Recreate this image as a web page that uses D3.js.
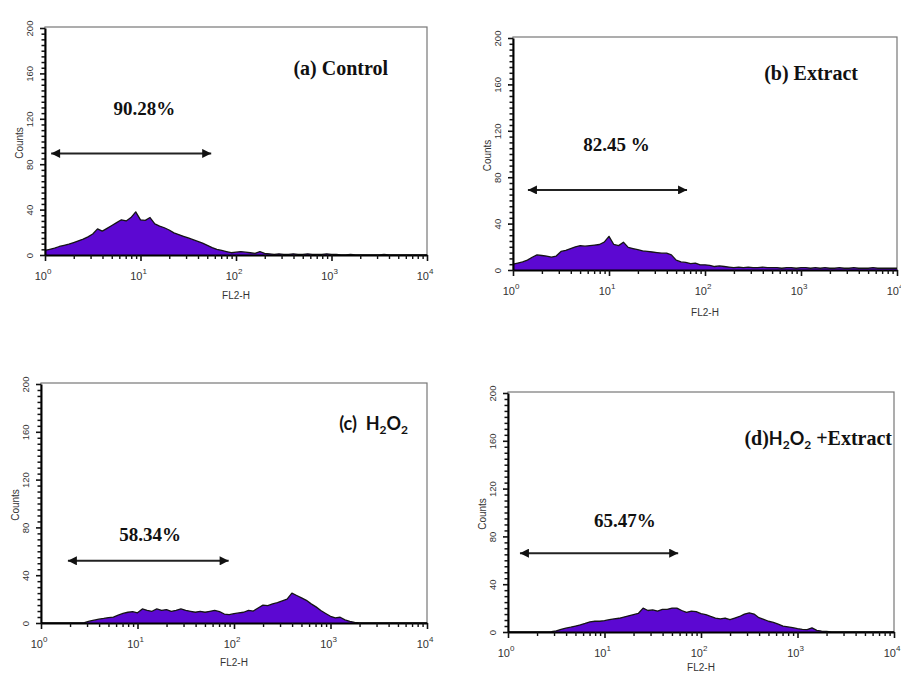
<!DOCTYPE html>
<html>
<head>
<meta charset="utf-8">
<script src="https://cdn.jsdelivr.net/npm/d3@7"></script>
<style>
  html, body { margin: 0; padding: 0; background: #fff; }
  svg { display: block; }
</style>
</head>
<body>
<svg id="chart" width="901" height="675"></svg>
<script>
// ---------- DATA ----------
// FL2-H channel positions (log10 of fluorescence), 0.05-decade bins
const channelLog = [
  0.00,0.05,0.10,0.15,0.20,0.25,0.30,0.35,0.40,0.45,
  0.50,0.55,0.60,0.65,0.70,0.75,0.80,0.85,0.90,0.95,
  1.00,1.05,1.10,1.15,1.20,1.25,1.30,1.35,1.40,1.45,
  1.50,1.55,1.60,1.65,1.70,1.75,1.80,1.85,1.90,1.95,
  2.00,2.05,2.10,2.15,2.20,2.25,2.30,2.35,2.40,2.45,
  2.50,2.55,2.60,2.65,2.70,2.75,2.80,2.85,2.90,2.95,
  3.00,3.05,3.10,3.15,3.20,3.25,3.30,3.35,3.40,3.45,
  3.50,3.55,3.60,3.65,3.70,3.75,3.80,3.85,3.90,3.95,
  4.00
];

// (a) Control
const countsA = [
  4,5,6,7.5,8.5,9.5,11,12.5,14,16,
  18.5,23,21,23.5,26,28.5,31,30,33,38,
  31,30.5,33,27.5,25.5,24,22,19.5,18,16.5,
  15,13.5,12,10.5,8.5,6.5,5,4,3,2,
  2.5,3,2.5,2,1.5,3,1.5,1,0.5,1,
  0.5,0.5,1,0.5,0.5,1,0.5,0.5,0.5,1,
  0.5,0.5,0,0,0.5,0,0,0,0,0,
  0,0.5,0,0,0,0,0,0,0,0,
  0
];
// (b) Extract
const countsB = [
  5,6,7,8.5,11,13,12.5,12,11,12,
  16,17,18.5,20,21,20.5,21,21.5,22,24,
  29,22,21,24,19.5,18.5,17.5,16.5,16,15.5,
  15,14.5,14.5,13,8.5,7,6.5,5.5,6,4.5,
  4.5,4,3,3.5,3,2.5,2,2.5,2,2.5,
  2,2,2.5,2,2,2,1.5,2,2,1.5,
  2,2,1.5,2,1.5,2,1.5,1.5,2,1.5,
  1.5,2,1.5,1.5,1.5,2,1.5,1.5,1.5,1.5,
  1.5
];
// (c) H2O2
const countsC = [
  0,0,0,0,0,0,0,0,0,0.3,
  1.5,2.4,3.2,3.8,4.5,5,6.5,8,9,9.5,
  8.5,11.8,10.6,9.8,11.8,10.6,11.2,9.8,10.6,11.8,
  10.6,9.8,9,9.8,9,9.8,10.6,9.5,7.5,7,
  7.8,8.4,9,10.6,10,12.6,15,14.5,16,17,
  18.5,20,25,23,21,19,16,13.5,10.5,8,
  5.6,4.2,4.8,2.6,1.4,0.5,0,0,0,0,
  0,0,0,0,0,0,0,0,0,0,
  0
];
// (d) H2O2 + Extract
const countsD = [
  0,0,0,0,0,0,0,0,0,0.3,
  1,2.2,3.2,4,5,6,7.2,8.5,9,9,
  9.5,10.3,11,11.5,12.5,13.5,14.5,15.5,20,18,
  18.5,17.5,19,19,20,20,18,16.5,17.5,17,
  15.3,14.5,13,11.7,10.9,11.7,10.3,11.7,13,15,
  16,15,12,10.5,9,8,6.5,5,4.3,3.6,
  2.8,2.2,2,3.5,1.4,0.8,0.5,0,0,0,
  0,0,0,0,0,0,0,0,0,0,
  0
];

// Panel titles and marker-gate percentages
const panelLetters = ["(a)", "(b)", "(c)", "(d)"];
const gatePercent = ["90.28%", "82.45 %", "58.34%", "65.47%"];
// Gate (M1) ranges in FL2-H units and the count level where the bar is drawn
const gateStart = [1.16, 1.43, 1.9, 1.33];
const gateEnd   = [55, 65, 88, 58];
const gateLevel = [89.5, 69, 52, 66];
// Position of percentage text (FL2-H, Counts)
const pctX = [11, 12, 13.5, 16.3];
const pctY = [123, 103, 68.5, 88];

// Axis ticks
const yMajorTicks = [0, 40, 80, 120, 160, 200];
const yMinorTicks = [5,10,15,20,25,30,35,45,50,55,60,65,70,75,85,90,95,100,105,110,115,
                     125,130,135,140,145,150,155,165,170,175,180,185,190,195];
const xDecades = [1, 10, 100, 1000, 10000];
const xDecadeExp = ["0", "1", "2", "3", "4"];
const xMinorMult = [2,3,4,5,6,7,8,9];
const yAxisTitle = "Counts";
const xAxisTitle = "FL2-H";

// ---------- LAYOUT ----------
const layout = [
  { left: 45,  right: 427, bottom: 255, top: 27,  titleRight: 388, titleBase: 75,  xTitleGap: 44 },
  { left: 513, right: 897, bottom: 270, top: 37,  titleRight: 858, titleBase: 80,  xTitleGap: 46 },
  { left: 41,  right: 427, bottom: 623, top: 383, titleRight: 408, titleBase: 430, xTitleGap: 43 },
  { left: 508, right: 894, bottom: 632, top: 392, titleRight: 892, titleBase: 445, xTitleGap: 39 }
];
const allCounts = [countsA, countsB, countsC, countsD];

const FILL = "#5c08d2";
const serif = "'Liberation Serif', 'Times New Roman', serif";
const sans = "'Liberation Sans', Arial, sans-serif";

const svg = d3.select("#chart");

// arrow marker defs
const defs = svg.append("defs");
defs.append("marker").attr("id", "arrEnd").attr("viewBox", "0 0 10 10")
  .attr("refX", 10).attr("refY", 5).attr("markerWidth", 10).attr("markerHeight", 9)
  .attr("markerUnits", "userSpaceOnUse").attr("orient", "auto")
  .append("path").attr("d", "M0,0 L10,5 L0,10 z").attr("fill", "#111");
defs.append("marker").attr("id", "arrStart").attr("viewBox", "0 0 10 10")
  .attr("refX", 0).attr("refY", 5).attr("markerWidth", 10).attr("markerHeight", 9)
  .attr("markerUnits", "userSpaceOnUse").attr("orient", "auto")
  .append("path").attr("d", "M10,0 L0,5 L10,10 z").attr("fill", "#111");

layout.forEach((L, i) => {
  const counts = allCounts[i];
  const x = d3.scaleLog().domain([1, 10000]).range([L.left, L.right]);
  const y = d3.scaleLinear().domain([0, 200]).range([L.bottom, L.top + 1]);
  const g = svg.append("g");

  // frame
  g.append("rect")
    .attr("x", L.left).attr("y", L.top)
    .attr("width", L.right - L.left).attr("height", L.bottom - L.top)
    .attr("fill", "none").attr("stroke", "#777").attr("stroke-width", 1.2);

  // histogram
  const pts = channelLog.map((c, k) => [Math.pow(10, c), counts[k]]);
  const area = d3.area().x(d => x(d[0])).y0(y(0)).y1(d => y(d[1])).curve(d3.curveLinear);
  const line = d3.line().x(d => x(d[0])).y(d => y(d[1])).curve(d3.curveLinear);
  g.append("path").datum(pts).attr("d", area).attr("fill", FILL);
  g.append("path").datum(pts).attr("d", line).attr("fill", "none")
    .attr("stroke", "#151515").attr("stroke-width", 1.3).attr("stroke-linejoin", "round");

  // y axis (major)
  const yAx = g.append("g").attr("transform", `translate(${L.left},0)`)
    .call(d3.axisLeft(y).tickValues(yMajorTicks).tickSize(5).tickSizeOuter(0));
  yAx.select(".domain").attr("stroke", "#000").attr("stroke-width", 2);
  yAx.selectAll(".tick line").attr("stroke", "#111").attr("stroke-width", 1.6);
  yAx.selectAll(".tick text")
    .attr("transform", "rotate(-90)")
    .attr("x", 0).attr("y", -12).attr("dy", 0)
    .attr("text-anchor", "middle")
    .attr("font-family", sans).attr("font-size", 9.5).attr("fill", "#333");
  // y axis (minor)
  const yMin = g.append("g").attr("transform", `translate(${L.left},0)`)
    .call(d3.axisLeft(y).tickValues(yMinorTicks).tickSize(3.5).tickFormat(""));
  yMin.select(".domain").remove();
  yMin.selectAll(".tick line").attr("stroke", "#111").attr("stroke-width", 1.5);

  // x axis (major)
  const xAx = g.append("g").attr("transform", `translate(0,${L.bottom})`)
    .call(d3.axisBottom(x).tickValues(xDecades).tickSize(6).tickSizeOuter(0).tickFormat(""));
  xAx.select(".domain").attr("stroke", "#000").attr("stroke-width", 2.2);
  xAx.selectAll(".tick line").attr("stroke", "#111").attr("stroke-width", 1.6);
  // x minor ticks
  const minorVals = [];
  xDecades.slice(0, 4).forEach(d => xMinorMult.forEach(m => minorVals.push(d * m)));
  const xMin = g.append("g").attr("transform", `translate(0,${L.bottom})`)
    .call(d3.axisBottom(x).tickValues(minorVals).tickSize(4).tickFormat(""));
  xMin.select(".domain").remove();
  xMin.selectAll(".tick line").attr("stroke", "#111").attr("stroke-width", 1.4);

  // x tick labels 10^n
  xDecades.forEach((d, k) => {
    const t = g.append("text")
      .attr("x", x(d) - 2).attr("y", L.bottom + 25)
      .attr("text-anchor", "middle")
      .attr("font-family", sans).attr("font-size", 11).attr("fill", "#333");
    t.append("tspan").text("10");
    t.append("tspan").attr("dy", -6).attr("font-size", 8).text(xDecadeExp[k]);
  });

  // axis titles
  g.append("text")
    .attr("transform", `translate(${L.left - 22},${(L.top + L.bottom) / 2 + 2}) rotate(-90)`)
    .attr("text-anchor", "middle")
    .attr("font-family", sans).attr("font-size", 10).attr("fill", "#333")
    .text(yAxisTitle);
  g.append("text")
    .attr("x", (L.left + L.right) / 2).attr("y", L.bottom + L.xTitleGap)
    .attr("text-anchor", "middle")
    .attr("font-family", sans).attr("font-size", 10).attr("fill", "#333")
    .text(xAxisTitle);

  // gate arrow
  g.append("line")
    .attr("x1", x(gateStart[i])).attr("x2", x(gateEnd[i]))
    .attr("y1", y(gateLevel[i])).attr("y2", y(gateLevel[i]))
    .attr("stroke", "#222").attr("stroke-width", 2)
    .attr("marker-start", "url(#arrStart)").attr("marker-end", "url(#arrEnd)");

  // percentage
  g.append("text")
    .attr("x", x(pctX[i])).attr("y", y(pctY[i]))
    .attr("text-anchor", "middle")
    .attr("font-family", serif).attr("font-weight", "bold").attr("font-size", 19)
    .attr("fill", "#111")
    .text(gatePercent[i]);

  // panel title
  const tt = g.append("text")
    .attr("x", L.titleRight).attr("y", L.titleBase)
    .attr("text-anchor", "end")
    .attr("font-family", serif).attr("font-weight", "bold").attr("font-size", 20)
    .attr("fill", "#111");
  if (i === 0) {
    tt.append("tspan").text(panelLetters[0] + " Control");
  } else if (i === 1) {
    tt.append("tspan").text(panelLetters[1] + " Extract");
  } else {
    const h2o2Font = "Lato, 'Open Sans', sans-serif";
    if (i === 2) {
      tt.append("tspan").attr("font-family", h2o2Font).attr("font-size", 18).text(panelLetters[2] + "\u00a0\u00a0H");
    } else {
      tt.append("tspan").text(panelLetters[3]);
      tt.append("tspan").attr("font-family", h2o2Font).attr("font-size", 18).text("H");
    }
    tt.append("tspan").attr("font-family", h2o2Font).attr("font-size", 12).attr("dy", 4).text("2");
    tt.append("tspan").attr("font-family", h2o2Font).attr("font-size", 18).attr("dy", -4).text("O");
    tt.append("tspan").attr("font-family", h2o2Font).attr("font-size", 12).attr("dy", 4).text("2");
    if (i === 3) {
      tt.append("tspan").attr("dy", -4).text(" +Extract");
    }
  }
});
</script>
</body>
</html>
